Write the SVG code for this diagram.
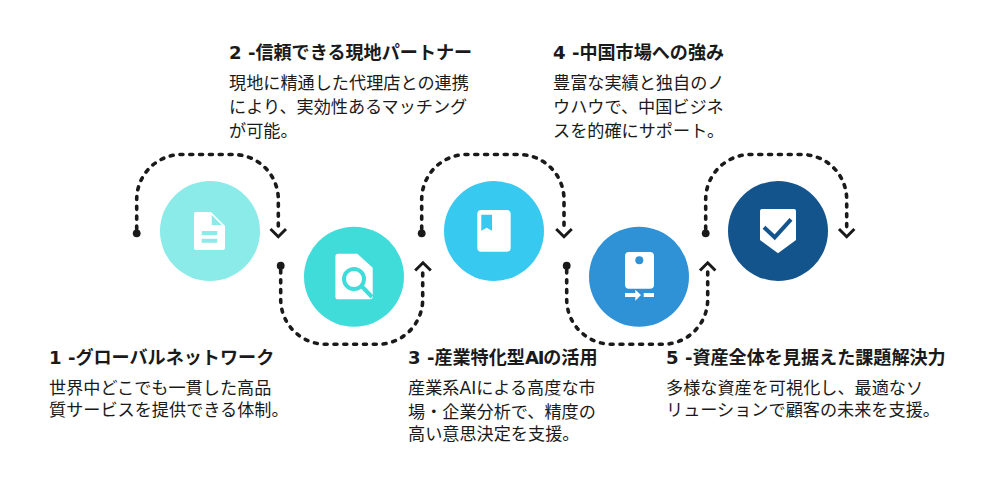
<svg xmlns="http://www.w3.org/2000/svg" width="986" height="485" viewBox="0 0 986 485">
<style>
text{font-family:"DejaVu Sans","Noto Sans CJK JP",sans-serif;fill:#1a1a1a;font-size:17.15px}
.h{font-weight:700;font-size:18.1px}
.c{fill:none;stroke:#1a1a1a;stroke-width:3.6;stroke-linecap:round;stroke-dasharray:3 6.83}
.a{fill:none;stroke:#1a1a1a;stroke-width:3}
.d{fill:#1a1a1a}
.w{fill:#fff}
</style>
<rect width="986" height="485" fill="#fff"/>
<g id="connectors">
<path class="c" d="M136.700 229V199.500A45 45 0 0 1 181.700 154.500H233.300A45 45 0 0 1 278.300 199.500V228"/>
<circle class="d" cx="136.700" cy="233.300" r="3.900"/><path class="a" d="M270.500 229L278.300 236.700L286 229"/>
<path class="c" d="M280.700 270V299.300A45 45 0 0 0 325.700 344.300H377.700A45 45 0 0 0 422.700 299.300V271.500"/>
<circle class="d" cx="280.700" cy="265.700" r="3.900"/><path class="a" d="M415.200 270.500L423 262.800L430.800 270.500"/>
<path class="c" d="M421.700 229V199.500A45 45 0 0 1 466.700 154.500H519A45 45 0 0 1 564 199.500V228"/>
<circle class="d" cx="421.700" cy="233.300" r="3.900"/><path class="a" d="M556.200 229L564 236.700L571.800 229"/>
<path class="c" d="M566.700 270V299.300A45 45 0 0 0 611.700 344.300H662.700A45 45 0 0 0 707.700 299.300V271.500"/>
<circle class="d" cx="566.700" cy="265.700" r="3.900"/><path class="a" d="M700 270.500L707.700 262.800L715.400 270.500"/>
<path class="c" d="M705.700 229V199.500A45 45 0 0 1 750.700 154.500H801.700A45 45 0 0 1 846.700 199.500V228"/>
<circle class="d" cx="705.700" cy="233.300" r="3.900"/><path class="a" d="M839 229L846.700 236.700L854.400 229"/>
</g>
<g id="node1">
<circle cx="210" cy="231" r="50" fill="#8AEBE8"/>
<path class="w" d="M196 212H211L225 226V248a2 2 0 0 1-2 2H196a2 2 0 0 1-2-2V214a2 2 0 0 1 2-2Z"/>
<path fill="#8AEBE8" d="M211.700 215L221.700 225H211.700ZM201.700 231H217.300V235H201.700ZM201.700 238.700H217.300V242.700H201.700Z"/>
<text class="h" x="49" y="364">1 -グローバルネットワーク</text>
<text x="49" y="394">世界中どこでも一貫した高品</text>
<text x="49" y="416">質サービスを提供できる体制。</text>
</g>
<g id="node2">
<circle cx="354" cy="276.700" r="50" fill="#40DCD9"/>
<path class="w" d="M338 253.700H357.300L372.700 267.700V297a2.300 2.300 0 0 1-2.300 2.300H338a2.600 2.600 0 0 1-2.600-2.600V256.300a2.600 2.600 0 0 1 2.600-2.600Z"/>
<circle cx="354" cy="279" r="10" fill="none" stroke="#40DCD9" stroke-width="4"/>
<path d="M361.500 286L372 297" fill="none" stroke="#40DCD9" stroke-width="4"/>
<text class="h" x="229" y="59">2 -信頼できる現地パートナー</text>
<text x="229" y="89">現地に精通した代理店との連携</text>
<text x="229" y="113">により、実効性あるマッチング</text>
<text x="229" y="137">が可能。</text>
</g>
<g id="node3">
<circle cx="494" cy="231" r="50" fill="#38C9F0"/>
<rect class="w" x="477.300" y="210" width="33.400" height="41.700" rx="4"/>
<path fill="#38C9F0" d="M481.300 214.700H492V230.700L486.700 227.700L481.300 230.700Z"/>
<text class="h" x="408" y="364">3 -産業特化型<tspan letter-spacing="-1.200">AI</tspan>の活用</text>
<text x="408" y="394">産業系AIによる高度な市</text>
<text x="408" y="418">場・企業分析で、精度の</text>
<text x="408" y="440">高い意思決定を支援。</text>
</g>
<g id="node4">
<circle cx="639" cy="276.700" r="50" fill="#2F92D7"/>
<rect class="w" x="625" y="252" width="29" height="36.700" rx="4"/>
<circle cx="639.300" cy="260.300" r="4" fill="#2F92D7"/>
<path class="w" d="M625 293H635.300V289.700L641 295L635.300 300.700V297H625ZM643.700 293H654V297H643.700Z"/>
<text class="h" x="553" y="59">4 -中国市場への強み</text>
<text x="553" y="89">豊富な実績と独自のノ</text>
<text x="553" y="113">ウハウで、中国ビジネ</text>
<text x="553" y="137">スを的確にサポート。</text>
</g>
<g id="node5">
<circle cx="778" cy="231" r="50" fill="#13548C"/>
<path class="w" d="M762 209H794a2 2 0 0 1 2 2V240L778 253.300L760 240V211a2 2 0 0 1 2-2Z"/>
<path d="M764 227.300L774.700 237.300L791 219.300" fill="none" stroke="#13548C" stroke-width="4"/>
<text class="h" x="666" y="364">5 -資産全体を見据えた課題解決力</text>
<text x="666" y="394">多様な資産を可視化し、最適なソ</text>
<text x="666" y="416">リューションで顧客の未来を支援。</text>
</g>
</svg>
